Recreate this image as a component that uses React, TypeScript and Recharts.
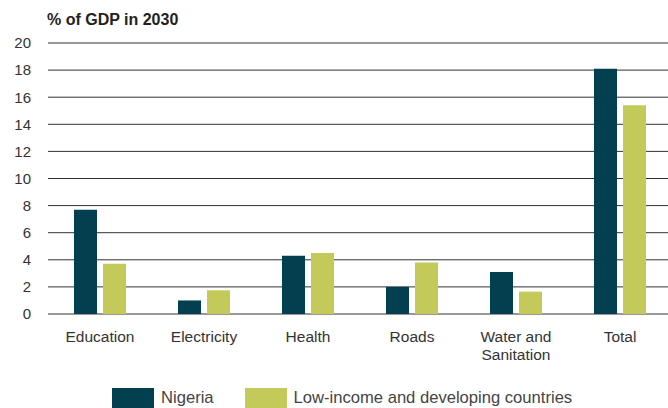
import React from "react";
import {
  BarChart,
  Bar,
  XAxis,
  YAxis,
  CartesianGrid,
  Legend,
} from "recharts";

const categories = ["Education", "Electricity", "Health", "Roads", "Water and\nSanitation", "Total"];
const nigeria = [7.7, 1.0, 4.3, 2.0, 3.1, 18.1];
const lowIncome = [3.7, 1.75, 4.5, 3.8, 1.65, 15.4];
const yTicks = [0, 2, 4, 6, 8, 10, 12, 14, 16, 18, 20];

const data = categories.map((name, i) => ({
  name,
  nigeria: nigeria[i],
  lowIncome: lowIncome[i],
}));

const FONT = "'Liberation Sans', Arial, Helvetica, sans-serif";
const NIGERIA = "#03404F";
const LOW = "#C3CA5A";

function CategoryTick(props: any) {
  const { x, y, payload } = props;
  const lines = String(payload.value).split("\n");
  return (
    <text x={x} y={y} textAnchor="middle" fill="#333" fontSize={15.5} fontFamily={FONT}>
      {lines.map((line, i) => (
        <tspan key={i} x={x} dy={i === 0 ? "0.71em" : 18}>
          {line}
        </tspan>
      ))}
    </text>
  );
}

function ChartLegend() {
  const items = [
    { label: "Nigeria", color: NIGERIA },
    { label: "Low-income and developing countries", color: LOW },
  ];
  return (
    <div style={{ display: "flex", alignItems: "center", paddingLeft: 112, fontFamily: FONT }}>
      {items.map((it) => (
        <div key={it.label} style={{ display: "flex", alignItems: "center", marginRight: 31 }}>
          <span style={{ width: 42, height: 20, background: it.color, display: "inline-block" }} />
          <span style={{ marginLeft: 7, fontSize: 16.6, color: "#444" }}>{it.label}</span>
        </div>
      ))}
    </div>
  );
}

export default function App() {
  return (
    <div
      style={{
        position: "absolute",
        left: 0,
        top: 0,
        width: 668,
        height: 408,
        overflow: "hidden",
        background: "#fff",
      }}
    >
      <div
        style={{
          position: "absolute",
          left: 47,
          top: 11,
          fontFamily: FONT,
          fontWeight: "bold",
          fontSize: 16,
          color: "#222",
        }}
      >
        % of GDP in 2030
      </div>
      <BarChart
        width={672}
        height={408}
        data={data}
        margin={{ top: 43, right: 0, bottom: 0, left: 0 }}
        barCategoryGap={25}
        barGap={6}
      >
        <CartesianGrid vertical={false} stroke="#333" strokeWidth={1} />
        <YAxis
          domain={[0, 20]}
          ticks={yTicks}
          width={48}
          axisLine={false}
          tickLine={false}
          tickSize={0}
          tickMargin={17}
          interval={0}
          tick={{ fill: "#333", fontSize: 15, fontFamily: FONT }}
        />
        <XAxis
          dataKey="name"
          height={58}
          axisLine={false}
          tickLine={false}
          tickSize={0}
          tickMargin={17}
          interval={0}
          tick={<CategoryTick />}
        />
        <Legend
          verticalAlign="bottom"
          height={36}
          content={() => <ChartLegend />}
          wrapperStyle={{ left: 0, bottom: -16, width: 668 }}
        />
        <Bar dataKey="nigeria" name="Nigeria" fill={NIGERIA} barSize={23} isAnimationActive={false} />
        <Bar dataKey="lowIncome" name="Low-income and developing countries" fill={LOW} barSize={23} isAnimationActive={false} />
      </BarChart>
    </div>
  );
}
